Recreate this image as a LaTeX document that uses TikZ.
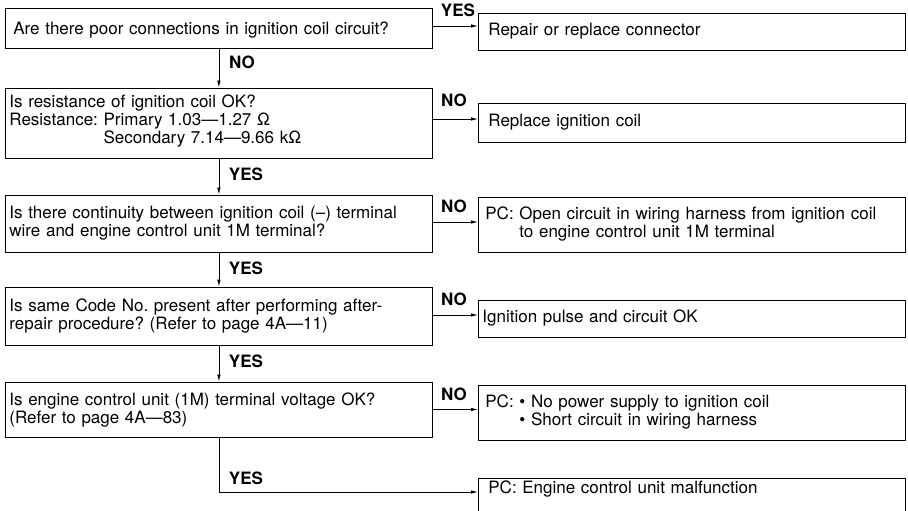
\documentclass[tikz,border=0pt]{standalone}
\usepackage{fontspec}
\setmainfont{TeX Gyre Heros}
\usetikzlibrary{arrows.meta}
\newcommand\myfs{\fontsize{17}{18}\selectfont\frenchspacing}
\begin{document}
\begin{tikzpicture}[x=1pt,y=-1pt,
  box/.style={draw, line width=0.8pt, anchor=west, align=left, inner ysep=2pt, font=\myfs, text width=407pt, inner xsep=10pt},
  lbox/.style={box, inner xsep=4pt, text width=419pt},
  lab/.style={font=\myfs\bfseries, inner sep=0pt},
  arr/.style={line width=0.8pt, -{Latex[length=7pt,width=3.5pt]}}]
\useasboundingbox (0,0) rectangle (908,511);
\clip (0,0) rectangle (908,511);
% questions
\node[box, minimum height=40pt, inner xsep=8pt, text width=411pt, text height=17pt] (q1) at (5,28) {Are there poor connections in ignition coil circuit?};
\node[lbox, minimum height=70pt, text depth=44pt] (q2) at (5,123) {Is resistance of ignition coil OK?\\Resistance: Primary 1.03—1.27 Ω\\\hphantom{Resistance: }Secondary 7.14—9.66 kΩ};
\node[lbox, minimum height=57pt] (q3) at (5,223.5) {Is there continuity between ignition coil (–) terminal\\wire and engine control unit 1M terminal?};
\node[lbox, minimum height=58pt] (q4) at (5,316) {Is same Code No. present after performing after-\\repair procedure? (Refer to page 4A—11)};
\node[lbox, minimum height=55pt] (q5) at (5,409.5) {Is engine control unit (1M) terminal voltage OK?\\(Refer to page 4A—83)};
% results
\node[box, minimum height=37pt] (r1) at (478,31.5) {Repair or replace connector};
\node[box, minimum height=39pt] (r2) at (478,122.5) {Replace ignition coil};
\node[box, minimum height=55pt, inner xsep=7pt, text width=413pt] (r3) at (478,224.5) {PC: Open circuit in wiring harness from ignition coil\\\hphantom{PC: }to engine control unit 1M terminal};
\node[box, minimum height=37pt, inner xsep=4pt, text width=419pt] (r4) at (478,318.5) {Ignition pulse and circuit OK};
\node[box, minimum height=55pt, inner xsep=7pt, text width=413pt] (r5) at (478,412.5) {PC: \textbullet\ No power supply to ignition coil\\\hphantom{PC: }\textbullet\ Short circuit in wiring harness};
\node[box, anchor=north west, text height=12pt, text depth=40pt, inner ysep=3pt] (r6) at (478,478) {PC: Engine control unit malfunction};
% horizontal connectors
\draw[arr] ([yshift=2pt]q1.east) -- ([yshift=2pt]q1.east -| r1.west);
\draw[arr] ([yshift=4pt]q2.east) -- ([yshift=4pt]q2.east -| r2.west);
\draw[arr] ([yshift=1.5pt]q3.east) -- ([yshift=1.5pt]q3.east -| r3.west);
\draw[arr] ([yshift=1pt]q4.east) -- ([yshift=1pt]q4.east -| r4.west);
\draw[arr] (q5.east) -- (q5.east -| r5.west);
% vertical connectors
\draw[arr] (q1.south) -- (q2.north);
\draw[arr] (q2.south) -- (q3.north);
\draw[arr] (q3.south) -- (q4.north);
\draw[arr] (q4.south) -- (q5.north);
\coordinate (e6) at ([yshift=-14pt]r6.north west);
\draw[arr] (q5.south) |- (e6);
% labels
\node[lab] (ly1) at (458,10) {YES};
\node[lab] (ln2) at (454,100) {NO};
\node[lab] (ln3) at (454,206) {NO};
\node[lab] (ln4) at (454,299) {NO};
\node[lab] (ln5) at (454,394) {NO};
\node[lab] (lv1) at (242,62) {NO};
\node[lab] (lv2) at (246,174) {YES};
\node[lab] (lv3) at (246,268) {YES};
\node[lab] (lv4) at (246,361) {YES};
\node[lab] (lv5) at (246,478) {YES};
\end{tikzpicture}
\end{document}
